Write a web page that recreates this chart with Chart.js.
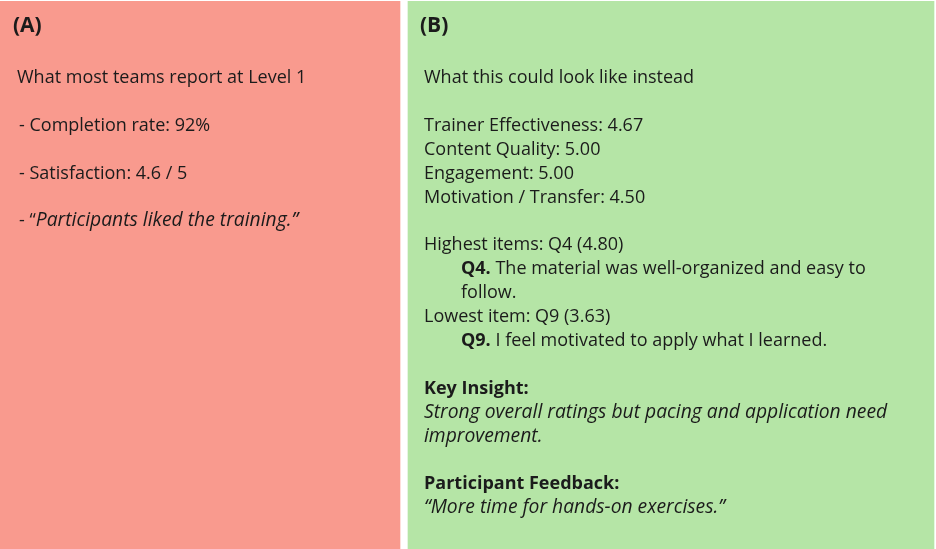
<!DOCTYPE html>
<html>
<head>
<meta charset="utf-8">
<script src="https://cdn.jsdelivr.net/npm/chart.js@4.4.1/dist/chart.umd.min.js"></script>
<style>
  html, body { margin: 0; padding: 0; background: #fff; }
  #wrap { width: 936px; height: 549px; position: relative; }
</style>
</head>
<body>
<div id="wrap"><canvas id="myChart"></canvas></div>
<script>
const panelLabels = ['(A)', '(B)'];
const panelColors = ['#f99a8e', '#b5e5a6'];

const levelOneTitle = 'What most teams report at Level 1';
const levelOneItems = ['Completion rate: 92%', 'Satisfaction: 4.6 / 5'];
const levelOneQuote = 'Participants liked the training.';

const betterTitle = 'What this could look like instead';
const dimensionNames = ['Trainer Effectiveness', 'Content Quality', 'Engagement', 'Motivation / Transfer'];
const dimensionScores = [4.67, 5.00, 5.00, 4.50];

const highestItem = { id: 'Q4', score: 4.80, text: ['The material was well-organized and easy to', 'follow.'] };
const lowestItem = { id: 'Q9', score: 3.63, text: ['I feel motivated to apply what I learned.'] };

const insightTitle = 'Key Insight:';
const insightText = ['Strong overall ratings but pacing and application need', 'improvement.'];
const feedbackTitle = 'Participant Feedback:';
const feedbackText = '\u201cMore time for hands-on exercises.\u201d';

// layout (pixels)
const W = 936;
const panelSpans = [[0, 400], [408, 934]];
const FAMILY = '"Open Sans", "Noto Sans", sans-serif';
const BODY = 18;
const ITALIC = 19.3; // Open Sans italic runs narrower than the original
const HEAD = 21;
const LINE = 23.9;
const INK = '#1b1b1b';

function font(size, weight, style) {
  return (style || 'normal') + ' ' + (weight || 400) + ' ' + size + 'px ' + FAMILY;
}

// runs: [[text, weight, style], ...]
function drawRuns(ctx, x, y, runs, size) {
  let cx = x;
  runs.forEach(r => {
    const s = size || (r[2] === 'italic' ? ITALIC : BODY);
    ctx.font = font(s, r[1], r[2]);
    ctx.fillText(r[0], cx, y);
    cx += ctx.measureText(r[0]).width;
  });
}

const textPlugin = {
  id: 'panelText',
  afterDatasetsDraw(chart) {
    const ctx = chart.ctx;
    const a = chart.getDatasetMeta(0).data[0];
    const b = chart.getDatasetMeta(1).data[0];
    const ax = a.base, bx = b.base;
    ctx.save();
    ctx.fillStyle = INK;
    ctx.textBaseline = 'alphabetic';
    ctx.textAlign = 'left';

    // panel A
    drawRuns(ctx, ax + 13, 32, [[panelLabels[0], 700]], HEAD);
    let y = 83;
    drawRuns(ctx, ax + 17, y, [[levelOneTitle]]);
    levelOneItems.forEach(t => {
      y += LINE * 2;
      drawRuns(ctx, ax + 19, y, [['- ' + t]]);
    });
    y += LINE * 2;
    drawRuns(ctx, ax + 19, y, [['- \u201c'], [levelOneQuote + '\u201d', 400, 'italic']]);

    // panel B
    const left = bx + 16;
    const indent = bx + 53;
    drawRuns(ctx, bx + 12, 32, [[panelLabels[1], 700]], HEAD);
    y = 83;
    drawRuns(ctx, left, y, [[betterTitle]]);
    y += LINE;
    dimensionNames.forEach((n, i) => {
      y += LINE;
      drawRuns(ctx, left, y, [[n + ': ' + dimensionScores[i].toFixed(2)]]);
    });
    y += LINE * 2;
    drawRuns(ctx, left, y, [['Highest items: ' + highestItem.id + ' (' + highestItem.score.toFixed(2) + ')']]);
    highestItem.text.forEach((t, i) => {
      y += LINE;
      drawRuns(ctx, indent, y, i === 0 ? [[highestItem.id + '.', 700], [' ' + t]] : [[t]]);
    });
    y += LINE;
    drawRuns(ctx, left, y, [['Lowest item: ' + lowestItem.id + ' (' + lowestItem.score.toFixed(2) + ')']]);
    lowestItem.text.forEach((t, i) => {
      y += LINE;
      drawRuns(ctx, indent, y, i === 0 ? [[lowestItem.id + '.', 700], [' ' + t]] : [[t]]);
    });
    y += LINE * 2;
    drawRuns(ctx, left, y, [[insightTitle, 700]]);
    insightText.forEach(t => {
      y += LINE;
      drawRuns(ctx, left, y, [[t, 400, 'italic']]);
    });
    y += LINE * 2;
    drawRuns(ctx, left, y, [[feedbackTitle, 700]]);
    y += LINE;
    drawRuns(ctx, left, y, [[feedbackText, 400, 'italic']]);
    ctx.restore();
  }
};

const ctx = document.getElementById('myChart');
const datasets = panelSpans.map((span, i) => ({
  label: panelLabels[i],
  data: [span],
  backgroundColor: panelColors[i],
  borderWidth: 0,
  barPercentage: 1,
  categoryPercentage: 1
}));

const myChart = new Chart(ctx, {
  type: 'bar',
  data: { labels: ['panels'], datasets },
  options: {
    indexAxis: 'y',
    responsive: true,
    maintainAspectRatio: false,
    animation: false,
    grouped: false,
    layout: { padding: { top: 1, left: 0, right: 0, bottom: 0 } },
    plugins: { legend: { display: false }, tooltip: { enabled: false } },
    scales: {
      x: { type: 'linear', min: 0, max: W, display: false },
      y: { display: false }
    }
  },
  plugins: [textPlugin]
});
</script>
</body>
</html>
